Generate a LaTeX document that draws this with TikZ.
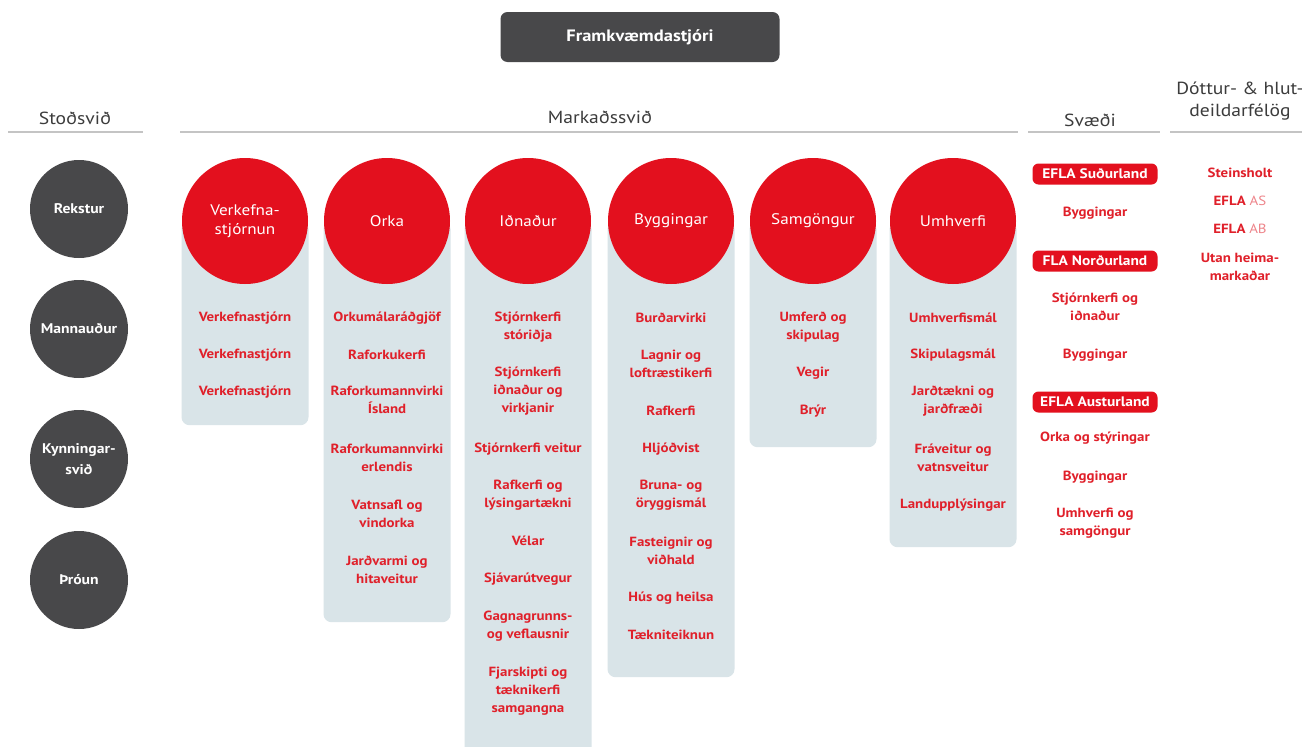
\documentclass[tikz,border=0pt]{standalone}
\usepackage{fontspec}
\setmainfont{PT Sans}[FakeStretch=1.12]
\definecolor{eflared}{HTML}{E3101E}
\definecolor{darkc}{HTML}{48484A}
\definecolor{panelc}{HTML}{D9E4E8}
\definecolor{itemred}{HTML}{E0202A}
\definecolor{rulec}{HTML}{C4C4C4}
\definecolor{headgray}{HTML}{3C3C3C}
\begin{document}
\begin{tikzpicture}[x=1pt,y=-1pt,
  item/.style={font=\bfseries\fontsize{13.3}{18}\selectfont, text=itemred, align=center, inner sep=0pt},
  head/.style={font=\fontsize{17.5}{22}\selectfont, text=headgray, align=center, inner sep=0pt},
  hrule/.style={draw=rulec, line width=1.6pt},
  panelbox/.style={fill=panelc, rounded corners=8pt, anchor=north, minimum width=127pt, inner sep=0pt},
  redcirc/.style={circle, fill=eflared, minimum size=126pt, inner sep=0pt, text=white, align=center, font=\fontsize{15.3}{19}\selectfont},
  darkcirc/.style={circle, fill=darkc, minimum size=98pt, inner sep=0pt, text=white, align=center, font=\bfseries\fontsize{14}{21}\selectfont},
  pill/.style={fill=eflared, rounded corners=6pt, minimum width=125pt, minimum height=21pt, inner sep=0pt, text=white, font=\bfseries\fontsize{13.8}{15}\selectfont}
]
\useasboundingbox[fill=white] (0,0) rectangle (1302,747);

% top box
\node[fill=darkc, rounded corners=7pt, minimum width=279pt, minimum height=50pt, text=white, font=\bfseries\fontsize{16.5}{18}\selectfont] (ceo) at (640,37) {Framkvæmdastjóri};

% headers
\node[head] (hstod) at (75,118) {Stoðsvið};
\node[head] (hmark) at (600,117) {Markaðssvið};
\node[head] (hsvd) at (1090,120) {Svæði};
\node[head] (hdot) at (1240,101) {Dóttur- \& hlut-\\deildarfélög};
\coordinate (r1a) at (8,132); \coordinate (r1b) at (143,132);
\coordinate (r2a) at (180,132); \coordinate (r2b) at (1018,132);
\coordinate (r3a) at (1028,132); \coordinate (r3b) at (1160,132);
\coordinate (r4a) at (1170,132); \coordinate (r4b) at (1302,132);
\draw[hrule] (r1a) -- (r1b);
\draw[hrule] (r2a) -- (r2b);
\draw[hrule] (r3a) -- (r3b);
\draw[hrule] (r4a) -- (r4b);

% left dark circles
\node[darkcirc] (d1) at (79,209) {Rekstur};
\node[darkcirc] (d2) at (79,329) {Mannauður};
\node[darkcirc] (d3) at (79,459) {Kynningar-\\svið};
\node[darkcirc] (d4) at (79,580) {Þróun};

% panels
\node[panelbox, minimum height=204pt] (p1) at (245,221) {};
\node[panelbox, minimum height=401pt] (p2) at (387,221) {};
\node[panelbox, minimum height=560pt] (p3) at (528,221) {};
\node[panelbox, minimum height=456pt] (p4) at (671,221) {};
\node[panelbox, minimum height=226pt] (p5) at (813,221) {};
\node[panelbox, minimum height=326pt] (p6) at (953,221) {};

% red circles
\node[redcirc] (c1) at (245,221) {Verkefna-\\stjórnun};
\node[redcirc] (c2) at (387,221) {Orka};
\node[redcirc] (c3) at (528,221) {Iðnaður};
\node[redcirc] (c4) at (671,221) {Byggingar};
\node[redcirc] (c5) at (813,221) {Samgöngur};
\node[redcirc] (c6) at (953,221) {Umhverfi};

% Verkefnastjornun
\node[item] (v1) at (245,318) {Verkefnastjórn};
\node[item] (v2) at (245,355) {Verkefnastjórn};
\node[item] (v3) at (245,392) {Verkefnastjórn};

% Orka
\node[item] (o1) at (387,318) {Orkumálaráðgjöf};
\node[item] (o2) at (387,355) {Raforkukerfi};
\node[item] (o3) at (387,400) {Raforkumannvirki\\Ísland};
\node[item] (o4) at (387,458) {Raforkumannvirki\\erlendis};
\node[item] (o5) at (387,514) {Vatnsafl og\\vindorka};
\node[item] (o6) at (387,570) {Jarðvarmi og\\hitaveitur};

% Idnadur
\node[item] (i1) at (528,327) {Stjórnkerfi\\stóriðja};
\node[item] (i2) at (528,391) {Stjórnkerfi\\iðnaður og\\virkjanir};
\node[item] (i3) at (528,449) {Stjórnkerfi veitur};
\node[item] (i4) at (528,495) {Rafkerfi og\\lýsingartækni};
\node[item] (i5) at (528,541) {Vélar};
\node[item] (i6) at (528,579) {Sjávarútvegur};
\node[item] (i7) at (528,626) {Gagnagrunns-\\og veflausnir};
\node[item] (i8) at (528,691) {Fjarskipti og\\tæknikerfi\\samgangna};

% Byggingar
\node[item] (b1) at (671,318) {Burðarvirki};
\node[item] (b2) at (671,364) {Lagnir og\\loftræstikerfi};
\node[item] (b3) at (671,411) {Rafkerfi};
\node[item] (b4) at (671,449) {Hljóðvist};
\node[item] (b5) at (671,495) {Bruna- og\\öryggismál};
\node[item] (b6) at (671,551) {Fasteignir og\\viðhald};
\node[item] (b7) at (671,598) {Hús og heilsa};
\node[item] (b8) at (671,635) {Tækniteiknun};

% Samgongur
\node[item] (s1) at (813,327) {Umferð og\\skipulag};
\node[item] (s2) at (813,373) {Vegir};
\node[item] (s3) at (813,411) {Brýr};

% Umhverfi
\node[item] (u1) at (953,318) {Umhverfismál};
\node[item] (u2) at (953,355) {Skipulagsmál};
\node[item] (u3) at (953,401) {Jarðtækni og\\jarðfræði};
\node[item] (u4) at (953,458) {Fráveitur og\\vatnsveitur};
\node[item] (u5) at (953,505) {Landupplýsingar};

% Svaedi
\node[pill] (e1) at (1095,174) {EFLA Suðurland};
\node[item] (e1a) at (1095,213) {Byggingar};
\node[pill] (e2) at (1095,261) {FLA Norðurland};
\node[item] (e2a) at (1095,307) {Stjórnkerfi og\\iðnaður};
\node[item] (e2b) at (1095,355) {Byggingar};
\node[pill] (e3) at (1095,402) {EFLA Austurland};
\node[item] (e3a) at (1095,438) {Orka og stýringar};
\node[item] (e3b) at (1095,477) {Byggingar};
\node[item] (e3c) at (1095,523) {Umhverfi og\\samgöngur};

% Dottur
\node[item] (f1) at (1240,173) {Steinsholt};
\node[item] (f2) at (1240,201) {EFLA {\mdseries\color{itemred!55}AS}};
\node[item] (f3) at (1240,229) {EFLA {\mdseries\color{itemred!55}AB}};
\node[item] (f4) at (1240,267) {Utan heima-\\markaðar};
\end{tikzpicture}
\end{document}
